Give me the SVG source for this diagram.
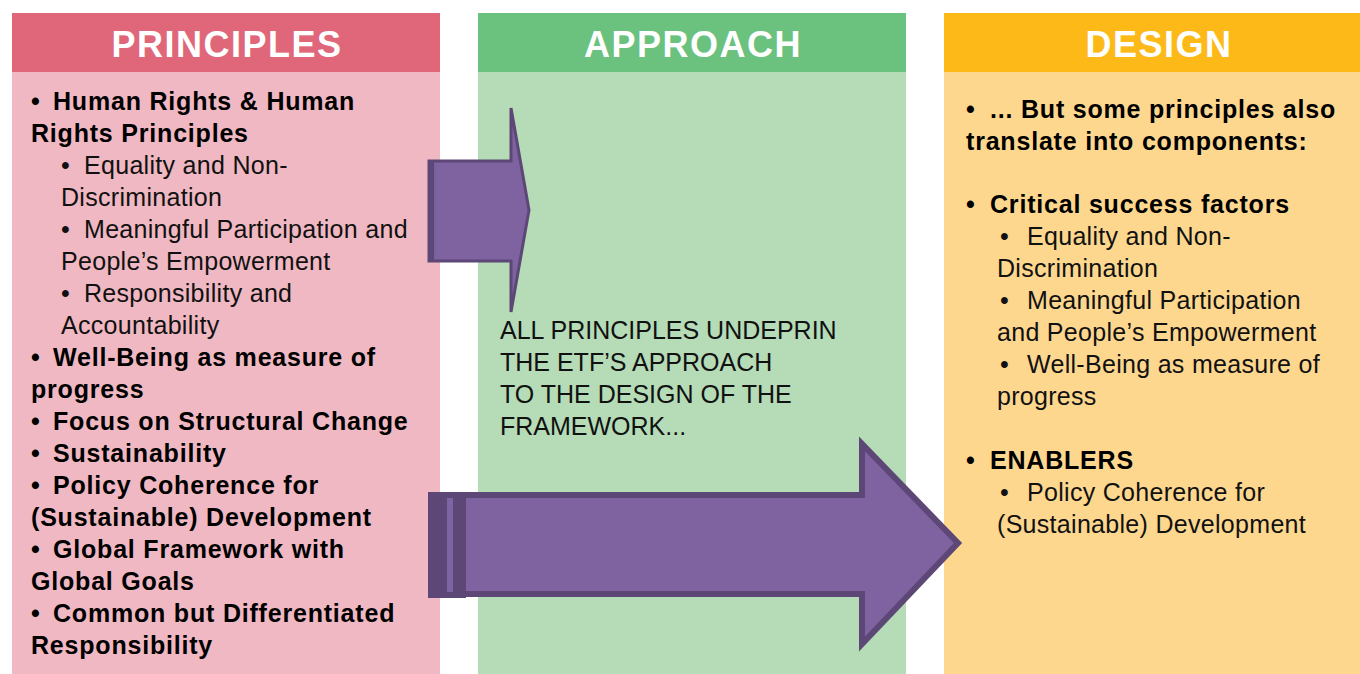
<svg xmlns="http://www.w3.org/2000/svg" width="1360" height="674" viewBox="0 0 1360 674">
<style>
.hd{font-family:"Liberation Sans",Arial,sans-serif;font-weight:bold;font-size:36px;letter-spacing:1.5px;fill:#fff;text-anchor:middle}
.b{font-family:"Liberation Sans",Arial,sans-serif;font-weight:bold;font-size:25px;letter-spacing:0.8px;fill:#000}
.r{font-family:"Liberation Sans",Arial,sans-serif;font-size:25px;letter-spacing:0.3px;fill:#111}
.m{font-family:"Liberation Sans",Arial,sans-serif;font-size:25px;fill:#111}
.arrow{fill:#7F63A0;stroke:#5C4777;stroke-linejoin:miter}
</style>
<rect width="1360" height="674" fill="#fff"/>
<g id="principles">
<rect x="12" y="72" width="428" height="602" fill="#F0B8C2"/>
<rect x="12" y="13" width="428" height="59" fill="#E0677A"/>
<text class="hd" x="227" y="57">PRINCIPLES</text>
<text class="b"><tspan x="31" y="110">•</tspan><tspan x="53" y="110">Human Rights &amp; Human</tspan><tspan x="31" y="142">Rights Principles</tspan></text>
<text class="r"><tspan x="61" y="174">•</tspan><tspan x="84" y="174">Equality and Non-</tspan><tspan x="61" y="206">Discrimination</tspan><tspan x="61" y="238">•</tspan><tspan x="84" y="238">Meaningful Participation and</tspan><tspan x="61" y="270">People’s Empowerment</tspan><tspan x="61" y="302">•</tspan><tspan x="84" y="302">Responsibility and</tspan><tspan x="61" y="334">Accountability</tspan></text>
<text class="b"><tspan x="31" y="366">•</tspan><tspan x="53" y="366">Well-Being as measure of</tspan><tspan x="31" y="398">progress</tspan><tspan x="31" y="430">•</tspan><tspan x="53" y="430">Focus on Structural Change</tspan><tspan x="31" y="462">•</tspan><tspan x="53" y="462">Sustainability</tspan><tspan x="31" y="494">•</tspan><tspan x="53" y="494">Policy Coherence for</tspan><tspan x="31" y="526">(Sustainable) Development</tspan><tspan x="31" y="558">•</tspan><tspan x="53" y="558">Global Framework with</tspan><tspan x="31" y="590">Global Goals</tspan><tspan x="31" y="622">•</tspan><tspan x="53" y="622">Common but Differentiated</tspan><tspan x="31" y="654">Responsibility</tspan></text>
</g>
<g id="approach">
<rect x="478" y="72" width="428" height="602" fill="#B5DBB7"/>
<rect x="478" y="13" width="428" height="59" fill="#6BC17E"/>
<text class="hd" x="693" y="57">APPROACH</text>
<text class="m"><tspan x="500" y="339">ALL PRINCIPLES UNDEPRIN</tspan><tspan x="500" y="371">THE ETF’S APPROACH</tspan><tspan x="500" y="403">TO THE DESIGN OF THE</tspan><tspan x="500" y="435">FRAMEWORK...</tspan></text>
</g>
<g id="design">
<rect x="944" y="72" width="416" height="602" fill="#FED78F"/>
<rect x="944" y="13" width="416" height="59" fill="#FCB918"/>
<text class="hd" x="1159" y="57">DESIGN</text>
<text class="b"><tspan x="966" y="118">•</tspan><tspan x="990" y="118">... But some principles also</tspan><tspan x="966" y="150">translate into components:</tspan><tspan x="966" y="213">•</tspan><tspan x="990" y="213">Critical success factors</tspan></text>
<text class="r"><tspan x="1000" y="245">•</tspan><tspan x="1027" y="245">Equality and Non-</tspan><tspan x="997" y="277">Discrimination</tspan><tspan x="1000" y="309">•</tspan><tspan x="1027" y="309">Meaningful Participation</tspan><tspan x="997" y="341">and People’s Empowerment</tspan><tspan x="1000" y="373">•</tspan><tspan x="1027" y="373">Well-Being as measure of</tspan><tspan x="997" y="405">progress</tspan></text>
<text class="b"><tspan x="966" y="469">•</tspan><tspan x="990" y="469">ENABLERS</tspan></text>
<text class="r"><tspan x="1000" y="501">•</tspan><tspan x="1027" y="501">Policy Coherence for</tspan><tspan x="997" y="533">(Sustainable) Development</tspan></text>
</g>
<g id="connectors">
<g id="arrow-top">
<polygon class="arrow" stroke-width="3" points="429,161 511,161 511,108 529,210 511,312 511,261 429,261"/>
<rect x="428" y="160" width="6" height="102" fill="#5C4777"/>
<rect x="434" y="164" width="2" height="94" fill="#7563A0"/>
</g>
<g id="arrow-bottom">
<polygon class="arrow" stroke-width="6" points="431,495 862,495 862,444 958,543 862,644 862,594 431,594"/>
<rect x="428" y="492" width="38" height="106" fill="#5C4777"/>
<rect x="447" y="498" width="6" height="94" fill="#7D64A2"/>
</g>
</g>
</svg>
